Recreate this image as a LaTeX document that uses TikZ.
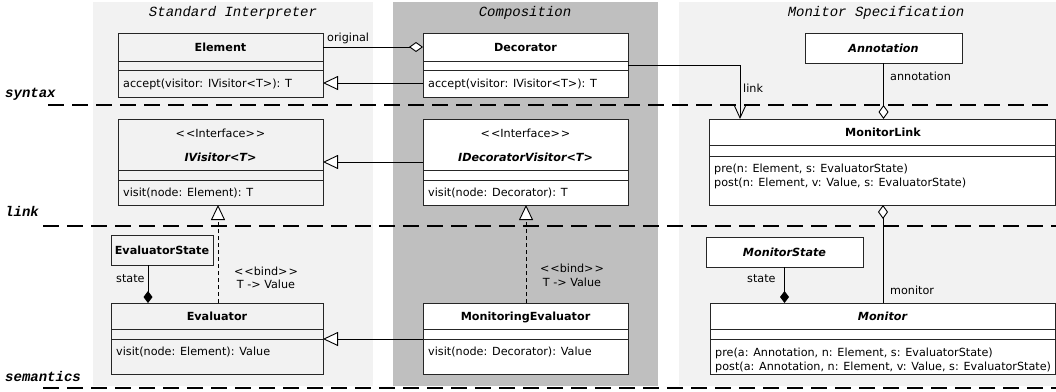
\documentclass[tikz,border=0pt]{standalone}
\usepackage{fontspec}
\setmainfont{DejaVu Sans}
\newfontfamily\monof{Liberation Mono}
\usetikzlibrary{arrows.meta,fit,calc}
\definecolor{panelL}{gray}{0.95}
\definecolor{panelD}{gray}{0.75}
\newcommand\umlsz{\fontsize{11.2}{13.5}\selectfont}
\newcommand\ltlt{<\kern1pt<}
\newcommand\gtgt{>\kern1pt>}
\tikzset{
  box/.style={draw=black!85, line width=0.9pt, inner sep=0pt, outer sep=0pt},
  boxL/.style={box, fill=panelL},
  boxW/.style={box, fill=white},
  div/.style={draw=black!85, line width=0.9pt},
  txt/.style={inner sep=0pt, text height=8.2pt, text depth=0pt},
  cname/.style={txt, font=\umlsz\bfseries},
  iname/.style={txt, font=\umlsz\bfseries\itshape},
  optext/.style={txt, font=\umlsz, anchor=west},
  lbl/.style={txt, font=\umlsz},
  ptitle/.style={txt, font=\monof\itshape\fontsize{14}{16}\selectfont},
  layer/.style={txt, anchor=west, font=\monof\bfseries\itshape\fontsize{14}{16}\selectfont},
  layerline/.style={line width=2pt, dash pattern=on 16pt off 8pt},
  conn/.style={line width=0.9pt, draw=black},
  gen/.style={conn, -{Triangle[open,length=15pt,width=14pt,fill=white]}},
  bind/.style={gen, dash pattern=on 4pt off 3pt},
  agg/.style={conn, -{Diamond[open,length=14pt,width=10pt,fill=white]}},
  comp/.style={conn, -{Diamond[length=12pt,width=9pt]}},
  nav/.style={conn, -{Straight Barb[length=12pt,width=11pt]}},
}
\begin{document}
\begin{tikzpicture}[x=1pt,y=-1pt]
\useasboundingbox (0,0) rectangle (1056,391);
% panels
\fill[panelL] (93,2) rectangle (373,386);
\fill[panelD] (393,2) rectangle (658,386);
\fill[panelL] (679,2) rectangle (1056,386);
\node[ptitle] (t1) at (233,12) {Standard Interpreter};
\node[ptitle] (t2) at (525,12) {Composition};
\node[ptitle] (t3) at (876,12) {Monitor Specification};
% layers
\draw[layerline] (48,105) -- (1056,105);
\draw[layerline] (43,226) -- (1056,226);
\draw[layerline] (43,388) -- (1056,388);
\node[layer] (l1) at (5,93) {syntax};
\node[layer] (l2) at (5,212) {link};
\node[layer] (l3) at (5,377) {semantics};

% Element
\node[boxL, fit={(118,33) (323,97)}] (element) {};
\draw[div] (element.west |- 0,61) -- (element.east |- 0,61);
\draw[div] (element.west |- 0,70) -- (element.east |- 0,70);
\node[cname] at (220.5,47) {Element};
\node[optext] at (123,83.5) {accept(visitor: IVisitor<T>): T};

% Decorator
\node[boxW, fit={(423,33) (628,97)}] (decorator) {};
\draw[div] (decorator.west |- 0,61) -- (decorator.east |- 0,61);
\draw[div] (decorator.west |- 0,70) -- (decorator.east |- 0,70);
\node[cname] at (525.5,47) {Decorator};
\node[optext] at (428,83.5) {accept(visitor: IVisitor<T>): T};

% Annotation
\node[boxW, fit={(805,33) (962,63)}] (annotation) {};
\node[iname] at (883.5,48) {Annotation};

% IVisitor
\node[boxL, fit={(118,119) (323,205)}] (ivisitor) {};
\draw[div] (ivisitor.west |- 0,170) -- (ivisitor.east |- 0,170);
\draw[div] (ivisitor.west |- 0,180) -- (ivisitor.east |- 0,180);
\node[lbl] at (220.5,133) {\ltlt Interface\gtgt};
\node[iname] at (220.5,157) {IVisitor<T>};
\node[optext] at (123,192.5) {visit(node: Element): T};

% IDecoratorVisitor
\node[boxW, fit={(423,119) (628,205)}] (idv) {};
\draw[div] (idv.west |- 0,170) -- (idv.east |- 0,170);
\draw[div] (idv.west |- 0,180) -- (idv.east |- 0,180);
\node[lbl] at (525.5,133) {\ltlt Interface\gtgt};
\node[iname] at (525.5,157) {IDecoratorVisitor<T>};
\node[optext] at (428,192.5) {visit(node: Decorator): T};

% MonitorLink
\node[boxW, fit={(709,119) (1055,205)}] (mlink) {};
\draw[div] (mlink.west |- 0,145) -- (mlink.east |- 0,145);
\draw[div] (mlink.west |- 0,156) -- (mlink.east |- 0,156);
\node[cname] at (883,132) {MonitorLink};
\node[optext] at (714,168) {pre(n: Element, s: EvaluatorState)};
\node[optext] at (714,182) {post(n: Element, v: Value, s: EvaluatorState)};

% EvaluatorState
\node[boxL, fit={(111,235) (213,265)}] (evstate) {};
\node[cname] at (162,250) {EvaluatorState};

% Evaluator
\node[boxL, fit={(111,303) (323,374)}] (evaluator) {};
\draw[div] (evaluator.west |- 0,329) -- (evaluator.east |- 0,329);
\draw[div] (evaluator.west |- 0,339) -- (evaluator.east |- 0,339);
\node[cname] at (217,316) {Evaluator};
\node[optext] at (116,351.5) {visit(node: Element): Value};

% MonitoringEvaluator
\node[boxW, fit={(423,303) (628,374)}] (meval) {};
\draw[div] (meval.west |- 0,329) -- (meval.east |- 0,329);
\draw[div] (meval.west |- 0,339) -- (meval.east |- 0,339);
\node[cname] at (525.5,316) {MonitoringEvaluator};
\node[optext] at (428,351.5) {visit(node: Decorator): Value};

% MonitorState
\node[boxW, fit={(706,237) (863,267)}] (monstate) {};
\node[iname] at (784.5,252) {MonitorState};

% Monitor
\node[boxW, fit={(710,303) (1055,374)}] (monitor) {};
\draw[div] (monitor.west |- 0,329) -- (monitor.east |- 0,329);
\draw[div] (monitor.west |- 0,339) -- (monitor.east |- 0,339);
\node[iname] at (882.5,316) {Monitor};
\node[optext] at (715,352) {pre(a: Annotation, n: Element, s: EvaluatorState)};
\node[optext] at (715,366) {post(a: Annotation, n: Element, v: Value, s: EvaluatorState)};

% connectors
\draw[agg] (element.east |- 0,47) -- (decorator.west |- 0,47);
\node[lbl, anchor=west] at (327,37) {original};
\draw[gen] (decorator.west |- 0,83) -- (element.east |- 0,83);
\draw[nav] (decorator.east) -| ($(mlink.north west)+(31,0)$);
\node[lbl, anchor=west] at (743,88) {link};
\draw[agg] (annotation.south) -- (annotation.south |- mlink.north);
\node[lbl, anchor=west] at (890,76) {annotation};
\draw[gen] (idv.west) -- (ivisitor.east);
\draw[bind] (evaluator.north -| 218,0) -- (ivisitor.south -| 218,0);
\node[lbl] at (266,271) {\ltlt bind\gtgt};
\node[lbl] at (266,284) {T -> Value};
\draw[bind] (meval.north -| 526,0) -- (idv.south -| 526,0);
\node[lbl] at (572,268) {\ltlt bind\gtgt};
\node[lbl] at (572,282) {T -> Value};
\draw[gen] (meval.west |- 0,339) -- (evaluator.east |- 0,339);
\draw[comp] (evstate.south -| 148,0) -- (evaluator.north -| 148,0);
\node[lbl, anchor=west] at (116,278) {state};
\draw[comp] (monstate.south) -- (monstate.south |- monitor.north);
\node[lbl, anchor=west] at (747,278) {state};
\draw[agg] (monitor.north -| 883,0) -- (mlink.south -| 883,0);
\node[lbl, anchor=west] at (890,290) {monitor};
\end{tikzpicture}
\end{document}
